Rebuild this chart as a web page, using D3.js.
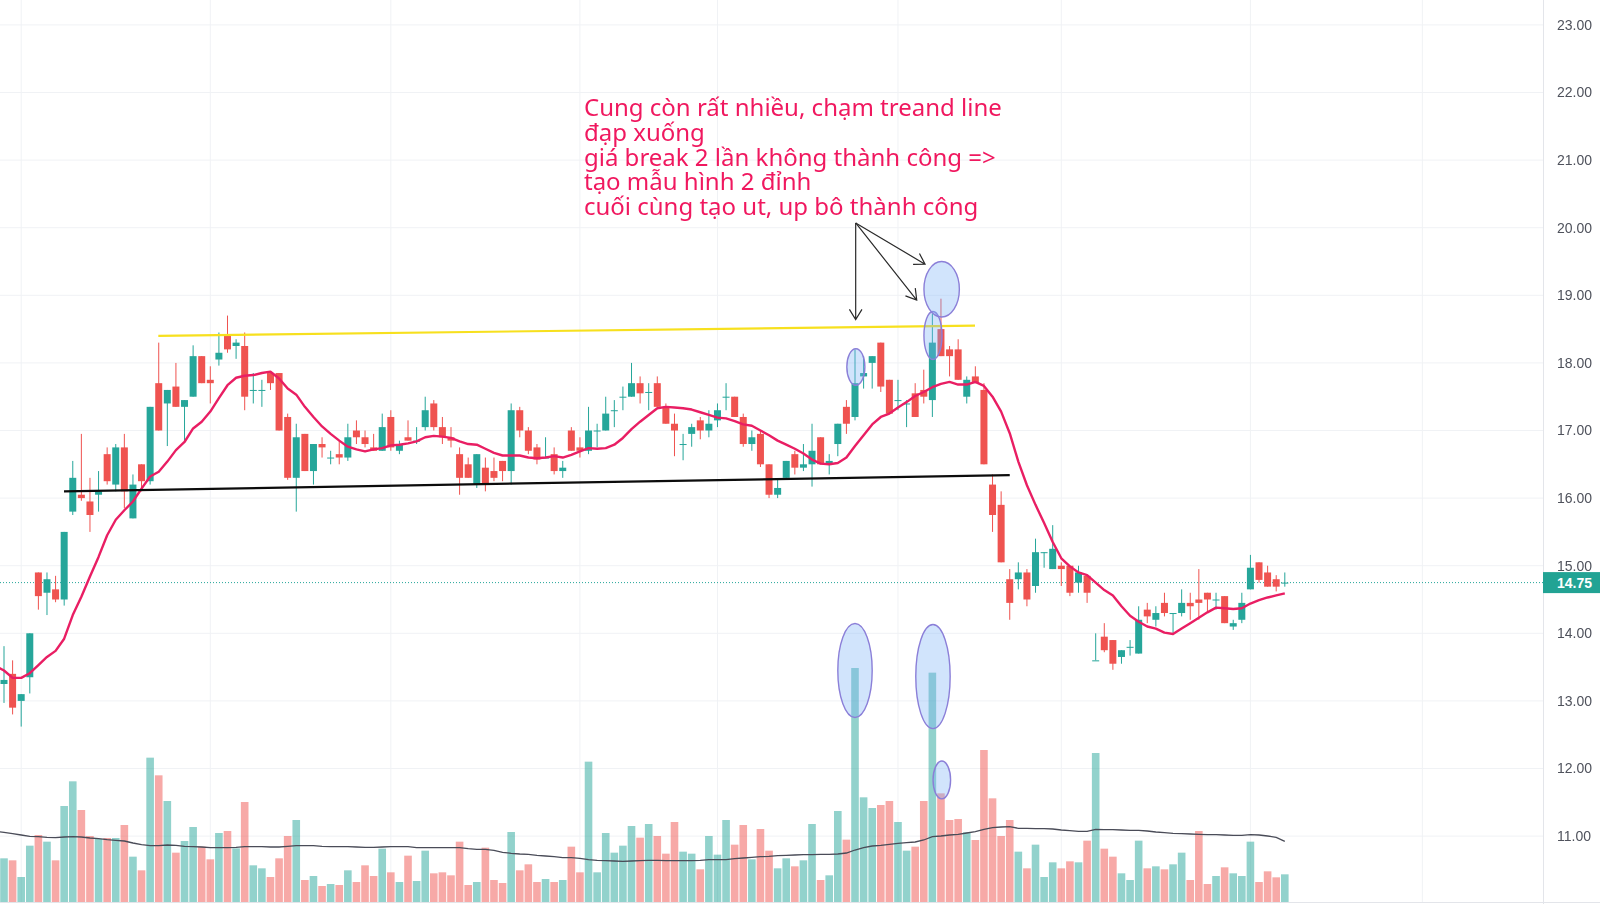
<!DOCTYPE html>
<html>
<head>
<meta charset="utf-8">
<script src="https://cdnjs.cloudflare.com/ajax/libs/d3/7.8.5/d3.min.js"></script>
<style>
  html, body { margin: 0; padding: 0; background: #fff; overflow: hidden; }
  svg { display: block; filter: blur(0.35px); }
  .axis text { font-family: "Liberation Sans", Arial, sans-serif; font-size: 14px; fill: #4f525c; }
</style>
</head>
<body>
<div id="chart"></div>
<script>
/* Data */
var open = [
  13.25,13.4,13.0,13.35,14.9,14.6,14.65,14.5,15.8,16.05,
  15.95,16.05,16.65,16.2,16.75,15.7,16.5,16.25,17.7,17.4,
  17.65,17.35,17.5,18.1,17.75,18.05,18.4,18.25,18.25,17.6,
  17.6,17.85,17.85,17.2,16.3,16.95,16.4,16.8,16.6,16.65,
  16.6,17.0,16.9,16.75,16.7,17.2,16.7,16.9,16.85,17.05,
  17.4,17.05,16.9,16.65,16.5,16.2,16.45,16.4,16.55,16.4,
  17.3,17.0,16.75,16.6,16.65,16.4,17.0,16.75,16.7,17.0,
  17.0,17.3,17.5,17.5,17.7,17.57,17.7,17.35,17.1,16.8,
  16.95,17.15,17.0,17.15,17.5,17.5,17.2,16.8,16.95,16.5,
  16.05,16.3,16.65,16.45,16.5,16.9,16.5,16.8,17.35,17.2,
  17.8,18.0,18.3,17.75,17.45,17.4,17.55,17.6,17.45,18.5,
  18.2,18.2,17.5,17.8,17.6,16.2,15.9,14.8,14.8,14.9,
  14.7,15.2,14.95,15.0,15.0,14.75,14.85,13.6,13.95,13.9,
  13.65,13.8,13.7,14.35,14.2,14.45,14.3,14.3,14.45,14.5,
  14.6,14.5,14.55,14.1,14.2,14.65,15.05,14.9,14.8,14.75
];
var high = [
  13.81,13.6,13.1,14.0,14.9,14.9,14.85,15.5,16.55,16.95,
  16.3,16.4,16.75,16.8,16.95,16.35,16.5,17.35,18.3,17.6,
  18.0,17.45,18.26,18.1,17.95,18.45,18.7,18.35,18.45,17.85,
  17.75,17.87,17.85,17.25,17.1,16.95,16.8,16.9,16.7,16.85,
  17.1,17.15,17.0,16.95,17.25,17.3,16.85,17.15,17.05,17.5,
  17.45,17.2,17.05,16.75,16.6,16.65,16.6,16.6,16.55,17.4,
  17.35,17.05,16.8,16.9,16.75,16.55,17.05,16.9,17.35,17.1,
  17.5,17.45,17.65,18.0,17.8,17.7,17.8,17.4,17.25,16.95,
  17.1,17.2,17.3,17.4,17.7,17.5,17.25,17.0,17.0,16.5,
  16.27,16.55,16.7,16.8,17.1,16.9,16.65,17.1,17.45,18.2,
  18.1,18.1,18.3,17.75,17.75,17.45,17.7,17.9,18.73,18.95,
  18.25,18.35,17.8,17.95,17.7,16.35,16.1,14.95,15.05,14.95,
  15.4,15.2,15.6,15.05,15.0,15.0,14.85,14.0,14.15,13.9,
  13.75,13.9,14.4,14.45,14.4,14.6,14.3,14.65,14.6,14.95,
  14.6,14.6,14.55,14.2,14.6,15.16,15.05,15.0,14.86,14.9
];
var low = [
  12.97,12.8,12.62,13.11,14.35,14.27,14.46,14.41,15.75,15.96,
  15.5,15.8,16.2,16.1,15.85,15.7,16.1,16.2,17.0,16.77,
  17.35,16.82,17.5,17.7,17.4,17.96,18.15,18.06,17.3,17.4,
  17.35,17.6,17.0,16.27,15.8,16.4,16.2,16.6,16.5,16.5,
  16.55,16.8,16.75,16.7,16.7,16.7,16.65,16.85,16.8,17.0,
  17.0,16.8,16.75,16.05,16.3,16.15,16.1,16.25,16.25,16.2,
  16.9,16.65,16.5,16.6,16.35,16.3,16.7,16.6,16.65,16.75,
  17.0,17.05,17.3,17.5,17.4,17.3,17.35,17.1,16.62,16.56,
  16.76,16.87,16.9,17.05,17.3,17.2,16.76,16.7,16.46,16.0,
  16.0,16.3,16.35,16.4,16.17,16.5,16.35,16.62,16.95,17.15,
  17.62,17.62,17.57,17.25,17.3,17.05,17.2,17.4,17.2,18.1,
  17.8,17.75,17.4,17.7,16.5,15.5,15.05,14.2,14.65,14.4,
  14.6,14.97,14.95,14.7,14.55,14.6,14.45,13.6,13.72,13.46,
  13.55,13.67,13.7,14.15,14.1,14.25,14.0,14.25,14.2,14.2,
  14.3,14.35,14.15,14.05,14.15,14.65,14.75,14.69,14.62,14.69
];
var close = [
  13.31,12.9,13.1,14.0,14.55,14.8,14.5,15.5,16.3,16.0,
  15.75,16.1,16.25,16.75,16.1,16.2,16.25,17.35,17.0,17.6,
  17.35,17.45,18.1,17.7,17.7,18.15,18.2,18.3,17.5,17.6,
  17.6,17.7,17.0,16.3,16.9,16.4,16.8,16.75,16.6,16.6,
  16.9,16.9,16.8,16.7,17.05,16.75,16.8,16.85,16.85,17.3,
  17.05,16.9,16.85,16.3,16.3,16.65,16.2,16.3,16.4,17.3,
  17.0,16.7,16.57,16.6,16.4,16.45,16.7,16.7,17.0,17.0,
  17.25,17.3,17.5,17.7,17.55,17.57,17.35,17.1,17.0,16.8,
  17.05,17.0,17.1,17.3,17.5,17.2,16.8,16.9,16.5,16.05,
  16.15,16.55,16.45,16.5,16.7,16.5,16.55,17.1,17.1,17.7,
  17.85,18.1,17.65,17.25,17.45,17.4,17.2,17.5,18.3,18.1,
  18.1,17.75,17.75,17.7,16.5,15.75,15.05,14.45,14.9,14.5,
  15.2,15.2,15.25,14.95,14.6,14.9,14.6,13.6,13.75,13.55,
  13.75,13.8,14.2,14.25,14.3,14.3,14.3,14.45,14.4,14.45,
  14.5,14.5,14.15,14.15,14.45,14.97,14.79,14.69,14.69,14.75
];
// first value of both averages belongs to the bar just off the left edge
var maPrice = [
  13.52,
  13.45,13.34,13.34,13.41,13.53,13.65,13.74,13.92,14.27,14.54,
  14.84,15.13,15.45,15.68,15.82,15.95,16.14,16.32,16.39,16.54,
  16.71,16.83,17.03,17.13,17.28,17.48,17.67,17.78,17.81,17.82,
  17.85,17.87,17.77,17.62,17.53,17.35,17.2,17.06,16.95,16.85,
  16.76,16.72,16.69,16.72,16.74,16.78,16.79,16.81,16.84,16.9,
  16.92,16.91,16.89,16.84,16.8,16.79,16.73,16.67,16.63,16.63,
  16.63,16.6,16.59,16.6,16.62,16.6,16.64,16.69,16.74,16.73,
  16.74,16.79,16.89,17.02,17.13,17.23,17.33,17.35,17.34,17.33,
  17.31,17.27,17.23,17.19,17.18,17.14,17.09,17.07,17.0,16.93,
  16.85,16.79,16.73,16.66,16.57,16.51,16.5,16.52,16.6,16.77,
  16.93,17.09,17.2,17.25,17.34,17.42,17.51,17.57,17.64,17.69,
  17.72,17.68,17.68,17.72,17.66,17.5,17.28,16.96,16.54,16.19,
  15.9,15.63,15.35,15.11,14.99,14.9,14.86,14.75,14.64,14.56,
  14.4,14.26,14.17,14.1,14.07,14.01,13.99,14.07,14.15,14.23,
  14.31,14.38,14.37,14.36,14.37,14.44,14.49,14.53,14.56,14.59
];
var volume = [
  131,125,75,169,201,181,125,288,362,276,198,189,192,192,231,136,95,433,380,303,
  148,183,225,166,128,207,213,161,300,110,101,75,131,198,246,66,78,48,54,51,
  95,60,110,78,160,89,60,139,63,154,86,89,80,181,51,60,163,66,57,210,
  95,113,60,69,60,66,166,89,421,89,207,148,169,228,193,234,198,145,240,151,
  145,98,198,142,246,172,231,128,219,154,101,131,107,125,234,66,80,273,187,702,
  314,282,291,303,240,154,166,303,688,326,246,249,209,186,456,311,198,246,151,101,
  172,75,119,101,122,119,184,447,160,136,86,66,184,101,107,98,113,148,66,213,
  54,78,104,86,78,181,60,92,74,83
];
var maVolume = [
  212,
  209,205,201,197,196,194,193,195,196,195,192,190,187,185,183,177,172,169,169,171,
  170,167,166,165,163,163,163,164,166,166,166,165,165,167,169,169,169,167,166,166,
  166,165,164,164,165,166,166,166,163,163,163,163,163,163,160,158,158,155,149,146,
  144,143,140,138,136,133,133,131,127,125,124,123,122,123,124,125,125,124,124,124,
  124,125,127,127,127,130,132,134,136,137,139,140,141,142,142,143,143,144,147,156,
  163,168,170,173,176,178,180,186,196,198,201,203,207,211,218,223,225,226,221,221,
  220,220,219,216,214,212,212,218,217,217,216,215,215,213,210,208,206,205,204,203,
  202,202,201,200,200,202,201,198,194,182
];
var priceTicks = [23,22,21,20,19,18,17,16,15,14,13,12,11];
var timeGrid = [2,24,45,67,83,104,123,145,165];
var lastPrice = 14.75;

// drawings on the chart, in bar index / price
var yellowLine = [[17.95,18.4],[112.96,18.55]];
var blackLine = [[6.98,16.1],[117,16.34]];
var arrowFrom = [99.08,20.07];
var arrowTo = [[99.08,18.64],[106.18,18.93],[107.15,19.46]];
// bar index, top price, bottom price, half width in bars
var ovals = [
  [99,14.145,12.755,2],[108.07,14.13,12.59,2],[109.1,12.11,11.55,1.02],
  [99.1,18.21,17.67,1.05],[108.07,18.76,18.05,1.05],[109.08,19.5,18.68,2.06]
];
var noteLines = [
  "Cung còn rất nhiều, chạm treand line",
  "đạp xuống",
  "giá break 2 lần không thành công =>",
  "tạo mẫu hình 2 đỉnh",
  "cuối cùng tạo ut, up bô thành công"
];

var width = 1600, height = 904, plotRight = 1543, plotBottom = 902;
var up = "#26a69a", down = "#ef5350";

var x = d3.scaleLinear().domain([0,149]).range([4,1284.8]);
var y = d3.scaleLinear().domain([15,14]).range([565.7,633.3]);
var yVol = d3.scaleLinear().domain([0,720]).range([plotBottom,plotBottom-240]);

var svg = d3.select("#chart").append("svg").attr("width",width).attr("height",height);

svg.append("defs").append("clipPath").attr("id","plot")
  .append("rect").attr("width",plotRight).attr("height",plotBottom);

//Grid
var grid = svg.append("g").attr("clip-path","url(#plot)");
grid.selectAll("line.h").data(priceTicks).enter().append("line").attr("class","h")
  .attr("x1",0).attr("x2",plotRight)
  .attr("y1",function(d){return y(d);}).attr("y2",function(d){return y(d);})
  .attr("stroke","#f0f2f5").attr("stroke-width",1);
grid.selectAll("line.v").data(timeGrid).enter().append("line").attr("class","v")
  .attr("y1",0).attr("y2",plotBottom)
  .attr("x1",function(d){return x(d);}).attr("x2",function(d){return x(d);})
  .attr("stroke","#f0f2f5").attr("stroke-width",1);

var g = svg.append("g").attr("clip-path","url(#plot)");
var idx = d3.range(open.length);
function color(i){ return close[i] >= open[i] ? up : down; }

//Volume bars
g.append("g").selectAll("rect").data(idx).enter().append("rect")
  .attr("x",function(i){return x(i)-3.8;})
  .attr("width",7.6)
  .attr("y",function(i){return yVol(volume[i]);})
  .attr("height",function(i){return plotBottom-yVol(volume[i]);})
  .attr("fill",color).attr("opacity",0.5);

g.append("path").datum(maVolume)
  .attr("fill","none").attr("stroke","#4a4c58").attr("stroke-width",1.3)
  .attr("d",d3.line().x(function(d,i){return x(i-1);}).y(function(d){return yVol(d);}));

//Last price line
g.append("line").attr("x1",0).attr("x2",plotRight)
  .attr("y1",y(lastPrice)).attr("y2",y(lastPrice))
  .attr("stroke",up).attr("stroke-width",1).attr("stroke-dasharray","1 2");

//Candles
var candles = g.append("g");
candles.selectAll("rect.wick").data(idx).enter().append("rect").attr("class","wick")
  .attr("x",function(i){return x(i)-0.5;}).attr("width",1)
  .attr("y",function(i){return y(high[i]);})
  .attr("height",function(i){return y(low[i])-y(high[i]);})
  .attr("fill",color);
candles.selectAll("rect.body").data(idx).enter().append("rect").attr("class","body")
  .attr("x",function(i){return x(i)-3.5;}).attr("width",7)
  .attr("y",function(i){return y(Math.max(open[i],close[i]));})
  .attr("height",function(i){return Math.max(1,Math.abs(y(open[i])-y(close[i])));})
  .attr("fill",color);

//Moving average
g.append("path").datum(maPrice)
  .attr("fill","none").attr("stroke","#e91e63").attr("stroke-width",2.4)
  .attr("stroke-linejoin","round")
  .attr("d",d3.line().x(function(d,i){return x(i-1);}).y(function(d){return y(d);}));

//Trend lines
function trend(pts,col,w){
  g.append("line")
    .attr("x1",x(pts[0][0])).attr("y1",y(pts[0][1]))
    .attr("x2",x(pts[1][0])).attr("y2",y(pts[1][1]))
    .attr("stroke",col).attr("stroke-width",w);
}
trend(yellowLine,"#f7e01e",2.2);
trend(blackLine,"#0c0c0c",2.2);

//Ovals
g.append("g").selectAll("ellipse").data(ovals).enter().append("ellipse")
  .attr("cx",function(d){return x(d[0]);})
  .attr("cy",function(d){return (y(d[1])+y(d[2]))/2;})
  .attr("rx",function(d){return x(d[3])-x(0);})
  .attr("ry",function(d){return (y(d[2])-y(d[1]))/2;})
  .attr("fill","rgba(120,175,245,0.34)")
  .attr("stroke","#8b7fd8").attr("stroke-width",1.4);

//Arrows
var ax = x(arrowFrom[0]), ay = y(arrowFrom[1]);
arrowTo.forEach(function(p){
  var bx = x(p[0]), by = y(p[1]);
  var a = Math.atan2(by-ay,bx-ax), h = 12;
  var d = "M"+ax+","+ay+"L"+bx+","+by
    +"M"+(bx-h*Math.cos(a-0.55))+","+(by-h*Math.sin(a-0.55))+"L"+bx+","+by
    +"L"+(bx-h*Math.cos(a+0.55))+","+(by-h*Math.sin(a+0.55));
  g.append("path").attr("d",d).attr("fill","none").attr("stroke","#2a2a2a").attr("stroke-width",1.2);
});

//Note
g.append("g").selectAll("text").data(noteLines).enter().append("text")
  .attr("x",x(67.47))
  .attr("y",function(d,i){return y(21.65)+i*24.75;})
  .attr("font-family","'Noto Sans', sans-serif")
  .attr("font-size","24px")
  .attr("fill","#f0185f")
  .text(function(d){return d;});

//Price axis
svg.append("line").attr("x1",plotRight+0.5).attr("x2",plotRight+0.5).attr("y1",0).attr("y2",height)
  .attr("stroke","#e3e5ea");
svg.append("line").attr("x1",0).attr("x2",width).attr("y1",plotBottom+0.5).attr("y2",plotBottom+0.5)
  .attr("stroke","#e3e5ea");

var yAxis = d3.axisRight(y).tickValues(priceTicks).tickSize(0).tickPadding(14)
  .tickFormat(d3.format(".2f"));
svg.append("g").attr("class","axis").attr("transform","translate("+plotRight+",0)")
  .call(yAxis).select(".domain").remove();

//Last price label
svg.append("rect").attr("x",plotRight).attr("y",y(lastPrice)-10.5).attr("width",width-plotRight).attr("height",21)
  .attr("fill","#22a394");
svg.append("text").attr("x",plotRight+14).attr("y",y(lastPrice)+5)
  .attr("font-family","'Liberation Sans', Arial, sans-serif").attr("font-size","14px").attr("font-weight","bold")
  .attr("fill","#fff").text(d3.format(".2f")(lastPrice));
</script>
</body>
</html>
